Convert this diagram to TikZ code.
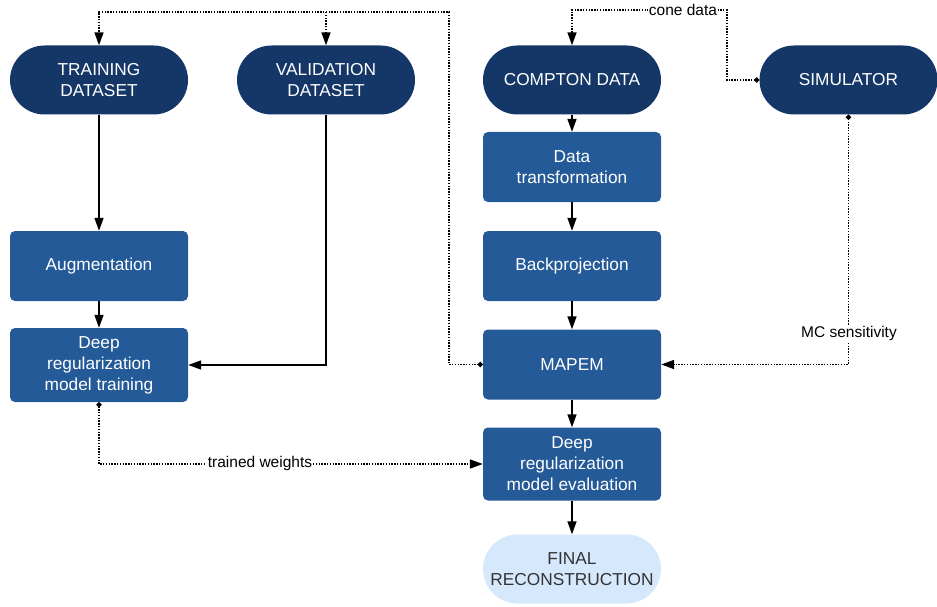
\documentclass[tikz,border=0pt]{standalone}
\usepackage{fontspec}
\setmainfont{Liberation Sans}
\usetikzlibrary{arrows.meta}
\definecolor{pilldark}{HTML}{153767}
\definecolor{boxblue}{HTML}{245A97}
\definecolor{pilllight}{HTML}{D6E8FC}
\tikzset{
PILL/.style ={fill=pilldark,text=white,rounded corners=34.5pt,minimum width=178pt,minimum height=69pt,align=center,inner sep=0pt,font=\fontsize{17.3}{21}\selectfont},
LIGHTPILL/.style={PILL,fill=pilllight,text=black!80},
BOX/.style ={fill=boxblue,text=white,rounded corners=5pt,minimum width=178pt,minimum height=70pt,align=center,inner sep=0pt,font=\fontsize{17.3}{21}\selectfont},
FLOW/.style ={draw=black,line width=1.6pt,-{Triangle[length=13pt,width=9pt]}},
LINK/.style ={draw=black,line width=1.7pt,dash pattern=on 1.4pt off 1.4pt,{Circle[length=5pt]}-{Triangle[length=13pt,width=9pt]}},
BRANCH/.style ={LINK,-{Triangle[length=13pt,width=9pt]}},
LABEL/.style ={fill=white,inner sep=1pt,font=\fontsize{15.5}{18}\selectfont},
}
\begin{document}
\begin{tikzpicture} %reconstruction pipeline
[x=1pt,y=-1pt]
	\useasboundingbox (0,0) rectangle (937,607);
	% network side
	\node[PILL] (train) at (99,80) {TRAINING\\DATASET};
	\node[PILL] (valid) at (326,80) {VALIDATION\\DATASET};
	\node[BOX] (augm) at (99,266) {Augmentation};
	\node[BOX,minimum height=74pt] (dtrain) at (99,365) {Deep\\regularization\\model training};
	% reconstruction side
	\node[PILL] (compton) at (572,80) {COMPTON DATA};
	\node[PILL] (sim) at (848.5,80) {SIMULATOR};
	\node[BOX] (transf) at (572,167) {Data\\transformation};
	\node[BOX] (backp) at (572,266) {Backprojection};
	\node[BOX] (mapem) at (572,364.5) {MAPEM};
	\node[BOX,minimum height=73pt] (deval) at (572,464) {Deep\\regularization\\model evaluation};
	\node[LIGHTPILL] (final) at (572,569) {FINAL\\RECONSTRUCTION};
	\coordinate (mapemup) at (449,12);
	\coordinate (coneup) at (727,10);
	% solid flow
	\path[FLOW] (train) -- (augm);
	\path[FLOW] (augm) -- (dtrain);
	\path[FLOW] (valid.south) |- (dtrain.east);
	\path[FLOW] (compton) -- (transf);
	\path[FLOW] (transf) -- (backp);
	\path[FLOW] (backp) -- (mapem);
	\path[FLOW] (mapem) -- (deval);
	\path[FLOW] (deval) -- (final);
	% dotted links
	\path[LINK] (mapem.west) -| (mapemup) -| (train.north);
	\path[BRANCH] (valid.north |- mapemup) -- (valid.north);
	\path[LINK] (sim.west) -| (coneup) -| (compton.north);
	\path[LINK] (sim.south) |- (mapem.east);
	\path[LINK] (dtrain.south) |- (deval.west);
	\node[LABEL] (conelbl) at (683,10) {cone data};
	\node[LABEL] (mclbl) at (849,333) {MC sensitivity};
	\node[LABEL] (wlbl) at (260,463) {trained weights};
\end{tikzpicture}
\end{document}
